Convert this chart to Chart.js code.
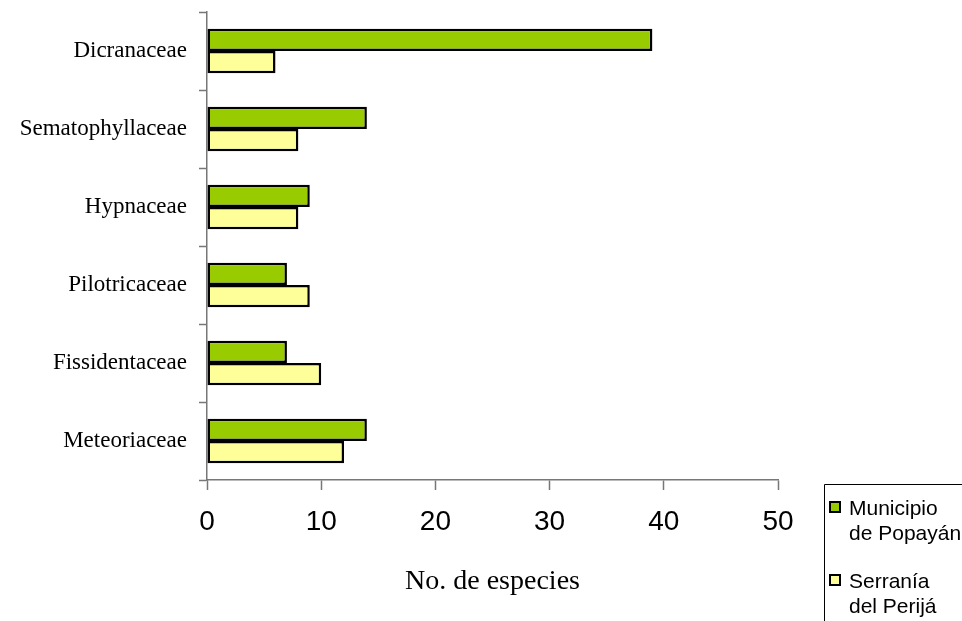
<!DOCTYPE html>
<html>
<head>
<meta charset="utf-8">
<script src="https://cdn.jsdelivr.net/npm/chart.js@4"></script>
<style>
  html, body { margin: 0; padding: 0; background: #fff; }
  #wrap { width: 962px; height: 621px; position: relative; }
</style>
</head>
<body>
<div id="wrap"><canvas id="chart" width="962" height="621"></canvas></div>
<script>
// familias de musgos y número de especies por localidad
const familias = ['Dicranaceae', 'Sematophyllaceae', 'Hypnaceae', 'Pilotricaceae', 'Fissidentaceae', 'Meteoriaceae'];
const popayan = [39, 14, 9, 7, 7, 14];
const perija = [6, 8, 8, 9, 10, 12];
const leyendaPopayan = ['Municipio', 'de Popayán'];
const leyendaPerija = ['Serranía', 'del Perijá'];
const ejeX = { min: 0, max: 50, paso: 10 };
const tituloX = 'No. de especies';

// leyenda dibujada a mano (las etiquetas van en dos líneas)
const leyendaCaja = {
  id: 'leyendaCaja',
  afterDraw(chart) {
    const ctx = chart.ctx;
    ctx.save();
    ctx.strokeStyle = '#000';
    ctx.lineWidth = 1;
    ctx.beginPath();
    ctx.moveTo(824.5, 621);
    ctx.lineTo(824.5, 484.5);
    ctx.lineTo(962, 484.5);
    ctx.stroke();

    const items = [
      { color: '#99CC00', lines: leyendaPopayan, y: 502 },
      { color: '#FFFF99', lines: leyendaPerija, y: 575 }
    ];
    ctx.font = '21px "Liberation Sans", Arial, sans-serif';
    ctx.textBaseline = 'middle';
    items.forEach(it => {
      ctx.fillStyle = it.color;
      ctx.fillRect(830, it.y, 10, 10);
      ctx.lineWidth = 2;
      ctx.strokeStyle = '#000';
      ctx.strokeRect(830, it.y, 10, 10);
      ctx.fillStyle = '#000';
      it.lines.forEach((t, i) => ctx.fillText(t, 849, it.y + 7 + i * 25));
    });
    ctx.restore();
  }
};

new Chart(document.getElementById('chart'), {
  type: 'bar',
  data: {
    labels: familias,
    datasets: [
      { label: leyendaPopayan.join(' '), data: popayan, backgroundColor: '#99CC00', borderColor: '#000', borderWidth: 2.5, borderSkipped: false },
      { label: leyendaPerija.join(' '), data: perija, backgroundColor: '#FFFF99', borderColor: '#000', borderWidth: 2.5, borderSkipped: false }
    ]
  },
  options: {
    indexAxis: 'y',
    responsive: false,
    animation: false,
    datasets: { bar: { categoryPercentage: 0.57, barPercentage: 1 } },
    layout: { padding: { top: 12, right: 184, left: 0, bottom: 0 } },
    plugins: { legend: { display: false }, tooltip: { enabled: false } },
    scales: {
      x: {
        min: ejeX.min, max: ejeX.max,
        ticks: { stepSize: ejeX.paso, color: '#000', padding: 15, font: { family: '"Liberation Sans", Arial, sans-serif', size: 28 } },
        grid: { drawOnChartArea: false, tickLength: 10, color: '#777', tickWidth: 1.5 },
        border: { color: '#777', width: 1.5 },
        title: { display: true, text: tituloX, color: '#000', padding: { top: 0, bottom: 23 }, font: { family: '"Liberation Serif", "Times New Roman", serif', size: 28 } },
        afterFit(scale) { scale.height = 141; }
      },
      y: {
        ticks: { color: '#000', padding: 12, font: { family: '"Liberation Serif", "Times New Roman", serif', size: 23 } },
        grid: { drawOnChartArea: false, tickLength: 8, color: '#777', tickWidth: 1.5, offset: true },
        border: { color: '#777', width: 1.5 },
        afterFit(scale) {
          scale.width = 207;
          scale.paddingTop = 0;
          scale.paddingBottom = 0;
        }
      }
    }
  },
  plugins: [leyendaCaja]
});
</script>
</body>
</html>
